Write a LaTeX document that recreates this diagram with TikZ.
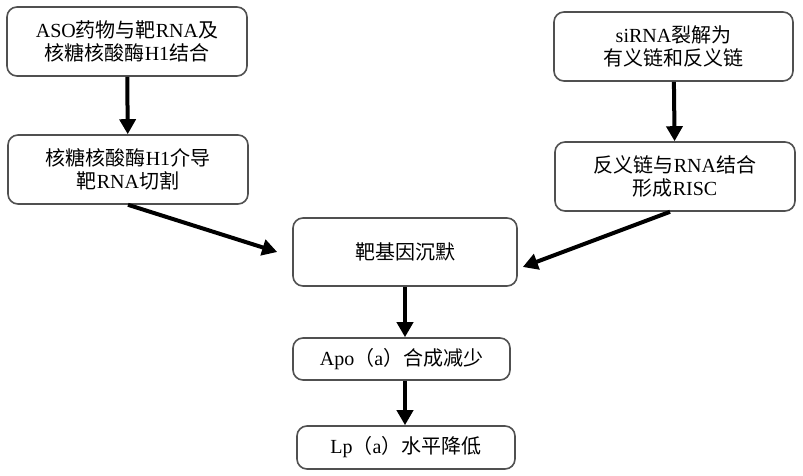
\documentclass[tikz,border=0pt]{standalone}
\usepackage{fontspec}
\setmainfont{Liberation Serif}
\newfontfamily\cjk{Noto Sans CJK SC}
\usetikzlibrary{positioning,arrows.meta}
\newcommand{\zh}[1]{{\cjk #1}}
\definecolor{boxgray}{HTML}{505050}
\tikzstyle{stepbox}=[draw=boxgray,line width=1.6pt,rounded corners=10pt,align=center,inner sep=0pt,font=\fontsize{20}{23}\selectfont]
\tikzstyle{flow}=[line width=4pt,-{Triangle[length=15pt,width=16pt]}]
\newcommand{\newStep}[5]{\node[stepbox,minimum width=#3,minimum height=#4](#1) at #5 {#2};}
\newcommand{\newFlow}[2]{\draw[flow] (#1) -- (#2);}

\begin{document}
\begin{tikzpicture}[x=1pt,y=-1pt]
      \useasboundingbox (0,0) rectangle (803,476);
      % ASO branch
      \newStep{aso}{ASO\zh{药物与靶}RNA\zh{及}\\\zh{核糖核酸酶}H1\zh{结合}}{240pt}{69pt}{(127,41.5)}
      \newStep{cut}{\zh{核糖核酸酶}H1\zh{介导}\\\zh{靶}RNA\zh{切割}}{240pt}{69pt}{(128,169.5)}
      % siRNA branch
      \newStep{sirna}{siRNA\zh{裂解为}\\\zh{有义链和反义链}}{239pt}{69pt}{(673.5,46.5)}
      \newStep{risc}{\zh{反义链与}RNA\zh{结合}\\\zh{形成}RISC}{240pt}{69pt}{(675,176.5)}
      % common path
      \newStep{silence}{\zh{靶基因沉默}}{224pt}{68pt}{(405,252)}
      \newStep{apo}{Apo\zh{（}a\zh{）合成减少}}{217pt}{42pt}{(401.5,359)}
      \newStep{lpa}{Lp\zh{（}a\zh{）水平降低}}{218pt}{43pt}{(406,447.5)}
      \newFlow{aso}{cut}
      \newFlow{sirna}{risc}
      \newFlow{cut.south}{[xshift=-15pt]silence.west}
      \newFlow{[xshift=-5pt]risc.south}{[xshift=5pt,yshift=-15pt]silence.east}
      \newFlow{silence.south}{silence.south |- apo.north}
      \newFlow{silence.south |- apo.south}{silence.south |- lpa.north}
    \end{tikzpicture}
\end{document}
